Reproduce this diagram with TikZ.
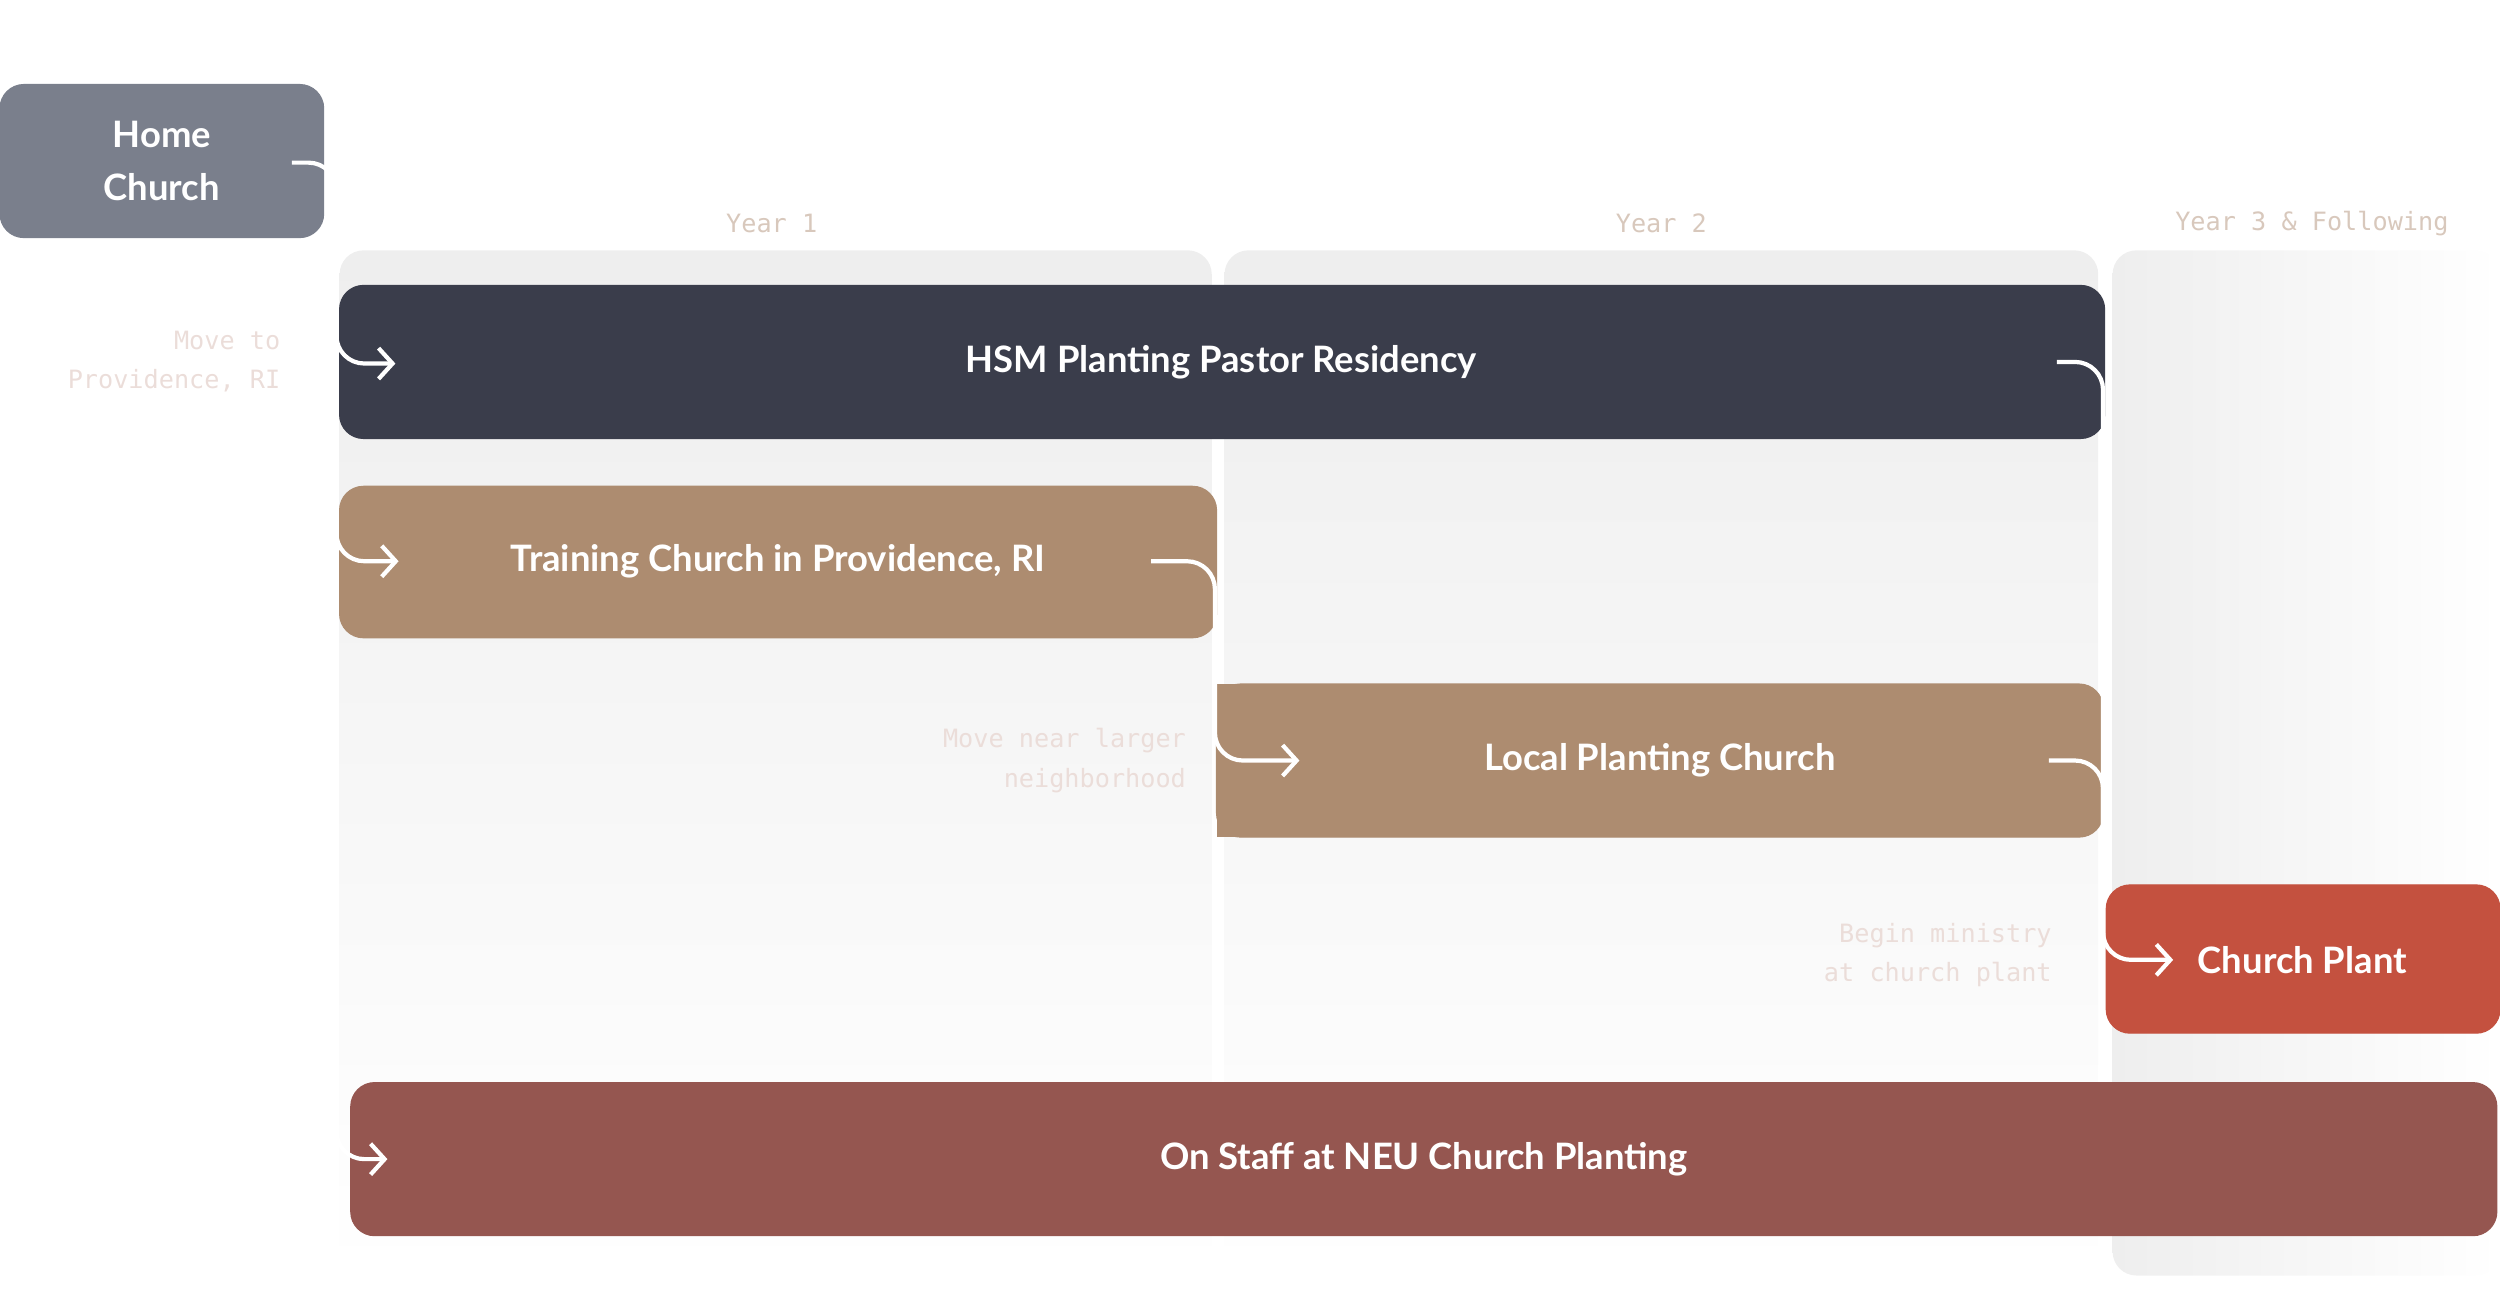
\documentclass[tikz,border=0pt]{standalone}
\usepackage{fontspec}
\setmainfont{Lato}
\setmonofont{DejaVu Sans Mono}
\usetikzlibrary{arrows.meta,positioning,calc}
\definecolor{homegray}{HTML}{7A7F8C}
\definecolor{hsmdark}{HTML}{3A3D4B}
\definecolor{tan}{HTML}{AD8C70}
\definecolor{plantred}{HTML}{C4513F}
\definecolor{staffred}{HTML}{955650}
\definecolor{yeartxt}{HTML}{D8C8BC}
\definecolor{notetxt}{HTML}{EBDDD9}
\definecolor{colbg}{HTML}{EEEEEE}
\tikzset{
  bar/.style={rounded corners=0.3cm, text=white, font=\fontsize{13}{19}\selectfont\bfseries, align=center, inner sep=0},
  yearlbl/.style={text=yeartxt, font=\ttfamily\fontsize{9}{11}\selectfont},
  note/.style={text=notetxt, font=\ttfamily\fontsize{9}{14}\selectfont, align=right, anchor=east},
  link/.style={white, line width=1.5pt, rounded corners=0.35cm, -{Straight Barb[length=5pt,width=11pt,line width=1.5pt]}},
  plain/.style={white, line width=1.5pt, rounded corners=0.35cm},
}
\begin{document}
\begin{tikzpicture}[x=0.02cm, y=-0.02cm]
  \useasboundingbox (0,0) rectangle (1568,809);

  % --- columns ---
  \shade[top color=colbg, bottom color=white, rounded corners=0.3cm] (213,157) rectangle (760,800);
  \shade[top color=colbg, bottom color=white, rounded corners=0.3cm] (768,157) rectangle (1316,800);
  \shade[left color=colbg, right color=white, rounded corners=0.3cm] (1325,157) rectangle (1568,800);
  \node[yearlbl] (y1) at (484,140) {Year 1};
  \node[yearlbl] (y2) at (1042,140) {Year 2};
  \node[yearlbl] (y3) at (1450,140) {Year 3 \& Following};

  % --- boxes ---
  \filldraw[homegray, bar] (0,53) rectangle (203,149);
  \node[bar] (home) at (101.5,101) {Home\\Church};
  \filldraw[hsmdark, bar] (213,179) rectangle (1320,275);
  \node[bar] (hsm) at (766,227) {HSM Planting Pastor Residency};
  \filldraw[tan, bar] (213,305) rectangle (763,400);
  \node[bar] (train) at (488,352) {Training Church in Providence, RI};
  \filldraw[tan, bar] (763,429) rectangle (1319,525);
  \node[bar] (local) at (1041,477) {Local Planting Church};
  \filldraw[plantred, bar] (1321,555) rectangle (1568,648);
  \node[bar] (plant) at (1444,602) {Church Plant};
  \filldraw[staffred, bar] (220,679) rectangle (1566,775);
  \node[bar] (staff) at (893,727) {On Staff at NEU Church Planting};

  % --- notes ---
  \node[note] (n1) at (182,227) {Move to\\Providence, RI};
  \node[note] (n2) at (750,477) {Move near larger\\neighborhood};
  \node[note] (n3) at (1293,599) {Begin ministry\\at church plant};
  \fill[tan] (763,429) rectangle (790,525);

  % --- connectors ---
  \coordinate (h0) at (183,102);
  \draw[link] (h0) -- (211,102) -- (211,727) -- (243,727);
  \draw[link] (211,200) |- (248,228);
  \draw[link] (211,320) |- (250,352);
  \draw[link] (722,352) -- (762,352) -- (762,477) -- (815,477);
  \draw[plain] (1290,227) -| (1319,560);
  \draw[link] (1285,477) -- (1319,477) -- (1319,602) -- (1363,602);
\end{tikzpicture}
\end{document}
